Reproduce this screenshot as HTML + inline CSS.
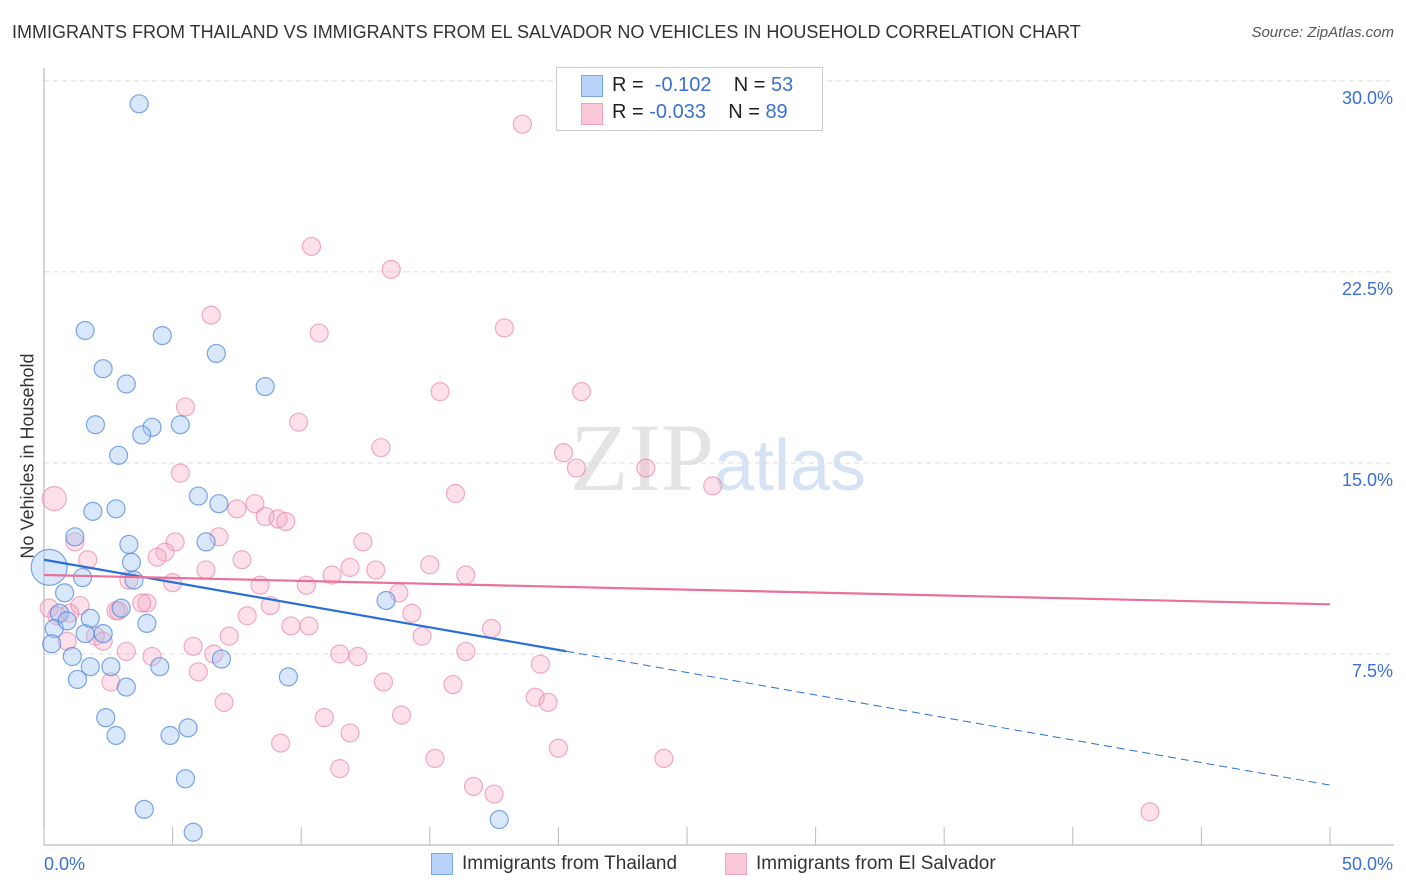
<!DOCTYPE html>
<html><head><meta charset="utf-8">
<style>
body{margin:0;background:#fff;font-family:"Liberation Sans",sans-serif;}
#wrap{position:relative;width:1406px;height:892px;overflow:hidden;}
.t{position:absolute;white-space:nowrap;}
</style></head>
<body>
<div id="wrap">
<div class="t" style="left:12px;top:22px;font-size:18px;color:#333;">IMMIGRANTS FROM THAILAND VS IMMIGRANTS FROM EL SALVADOR NO VEHICLES IN HOUSEHOLD CORRELATION CHART</div>
<div class="t" style="right:12px;top:24px;font-size:15px;color:#555;font-style:italic;">Source: ZipAtlas.com</div>
<div class="t" style="left:28px;top:456px;font-size:18px;color:#333;transform:translate(-50%,-50%) rotate(-90deg);">No Vehicles in Household</div>
<svg id="svg" width="1406" height="892" style="position:absolute;left:0;top:0"></svg>
<div style="position:absolute;left:556px;top:67px;width:265px;height:62px;border:1px solid #ccc;background:#fff;"></div>
<div style="position:absolute;left:581px;top:75px;width:20px;height:20px;background:#b7d3f7;border:1px solid #7aa6e6;"></div>
<div style="position:absolute;left:581px;top:103px;width:20px;height:20px;background:#fac8d8;border:1px solid #eea2bb;"></div>
<div class="t" style="left:612px;top:74px;font-size:20px;color:#222;">R = &nbsp;<span style="color:#3b6fd4">-0.102</span>&nbsp;&nbsp;&nbsp; N = <span style="color:#3b6fd4">53</span></div>
<div class="t" style="left:612px;top:101px;font-size:20px;color:#222;">R = <span style="color:#3b6fd4">-0.033</span>&nbsp;&nbsp;&nbsp; N = <span style="color:#3b6fd4">89</span></div>
<div style="position:absolute;left:431px;top:853px;width:20px;height:20px;background:#b7d3f7;border:1px solid #7aa6e6;"></div>
<div class="t" style="left:462px;top:853px;font-size:19px;color:#333;">Immigrants from Thailand</div>
<div style="position:absolute;left:725px;top:853px;width:20px;height:20px;background:#fac8d8;border:1px solid #eea2bb;"></div>
<div class="t" style="left:756px;top:853px;font-size:19px;color:#333;">Immigrants from El Salvador</div>
</div>
<script>
const blueX=[3.7,1.6,4.6,2.3,6.7,3.2,8.6,2.0,4.2,3.8,5.3,2.9,6.0,1.9,2.8,6.8,1.2,3.3,6.3,3.4,1.5,3.5,0.8,0.6,3.0,13.3,4.0,0.4,1.6,2.3,0.9,1.8,0.3,1.1,1.8,2.6,4.5,6.9,1.3,3.2,9.5,2.4,2.8,4.9,5.6,5.5,3.9,5.8,17.7,0.2];
const blueY=[29.1,20.2,20.0,18.7,19.3,18.1,18.0,16.5,16.4,16.1,16.5,15.3,13.7,13.1,13.2,13.4,12.1,11.8,11.9,11.1,10.5,10.4,9.9,9.1,9.3,9.6,8.7,8.5,8.3,8.3,8.8,8.9,7.9,7.4,7.0,7.0,7.0,7.3,6.5,6.2,6.6,5.0,4.3,4.3,4.6,2.6,1.4,0.5,1.0,10.9];
const blueR=[9,9,9,9,9,9,9,9,9,9,9,9,9,9,9,9,9,9,9,9,9,9,9,9,9,9,9,9,9,9,9,9,9,9,9,9,9,9,9,9,9,9,9,9,9,9,9,9,9,18];
const pinkX=[18.6,10.4,13.5,6.5,10.7,17.9,15.4,20.9,5.5,9.9,13.1,20.2,20.7,23.4,5.3,16.0,26.0,0.4,8.2,7.5,8.6,9.1,9.4,6.8,5.1,1.2,4.7,4.4,1.7,7.7,12.4,11.9,11.2,12.9,15.0,16.4,6.3,3.3,5.0,8.4,10.2,13.8,0.2,1.4,2.9,4.0,3.8,2.8,0.5,1.0,8.8,14.3,7.9,9.6,10.3,7.2,5.8,2.0,2.3,0.9,3.2,4.2,6.6,11.5,12.2,14.7,16.4,17.4,19.3,6.0,2.6,13.2,15.9,19.1,19.6,7.0,13.9,10.9,11.9,9.2,20.0,15.2,11.5,16.7,17.5,24.1,43.0];
const pinkY=[28.3,23.5,22.6,20.8,20.1,20.3,17.8,17.8,17.2,16.6,15.6,15.4,14.8,14.8,14.6,13.8,14.1,13.6,13.4,13.2,12.9,12.8,12.7,12.1,11.9,11.9,11.5,11.3,11.2,11.2,11.9,10.9,10.6,10.8,11.0,10.6,10.8,10.4,10.3,10.2,10.2,9.9,9.3,9.4,9.2,9.5,9.5,9.2,9.0,9.1,9.4,9.1,9.0,8.6,8.6,8.2,7.8,8.2,8.0,8.0,7.6,7.4,7.5,7.5,7.4,8.2,7.6,8.5,7.1,6.8,6.4,6.4,6.3,5.8,5.6,5.6,5.1,5.0,4.4,4.0,3.8,3.4,3.0,2.3,2.0,3.4,1.3];
const pinkR=pinkX.map((v,i)=>i===17?12:9);
const yTicks=[7.5,15,22.5,30];
const yTickLabels=["7.5%","15.0%","22.5%","30.0%"];
const xTicks=[0,5,10,15,20,25,30,35,40,45,50];
const blueTrend=[11.2,-0.177];  // intercept, slope per %
const blueSolidEnd=20.3;
const pinkTrend=[10.6,-0.023];

const X=v=>44+v*25.72, Y=v=>845-v*25.47;
const svg=document.getElementById('svg');
const NS='http://www.w3.org/2000/svg';
function mk(tag,attrs,name){const e=document.createElementNS(NS,tag);for(const k in attrs)e.setAttribute(k,attrs[k]);


svg.appendChild(e);return e;}
let w=mk('text',{x:718,y:490,'font-size':96,'text-anchor':'middle','font-family':'Liberation Serif, serif',fill:'#e4e4e4'},'watermark');
w.innerHTML='ZIP<tspan fill="#d6e3f4" font-family="Liberation Sans, sans-serif" font-size="72">atlas</tspan>';
yTicks.forEach((t,i)=>{
 mk('line',{x1:44,x2:1394,y1:Y(t),y2:Y(t),stroke:'#ddd','stroke-dasharray':'5,4'},'y-gridline');
 const l=mk('text',{x:1393,y:Y(t)+23,'text-anchor':'end','font-size':18,fill:'#3b6fd4','font-family':'Liberation Sans, sans-serif'},'y-tick-label');
 l.textContent=yTickLabels[i];
});
mk('line',{x1:44,x2:44,y1:68,y2:845,stroke:'#aaa'},'y-axis-line');
mk('line',{x1:44,x2:1394,y1:845,y2:845,stroke:'#aaa'},'x-axis-line');
xTicks.forEach(t=>mk('line',{x1:X(t),x2:X(t),y1:827,y2:845,stroke:'#bbb'},'x-tick'));
let xl=mk('text',{x:44,y:870,'font-size':18,fill:'#3b6fd4','font-family':'Liberation Sans, sans-serif'},'x-tick-label-min');xl.textContent='0.0%';
xl=mk('text',{x:1393,y:870,'text-anchor':'end','font-size':18,fill:'#3b6fd4','font-family':'Liberation Sans, sans-serif'},'x-tick-label-max');xl.textContent='50.0%';
pinkX.forEach((v,i)=>mk('circle',{cx:X(v),cy:Y(pinkY[i]),r:pinkR[i],fill:'rgba(246,168,194,0.35)',stroke:'rgba(232,130,165,0.65)','stroke-width':1.2},'pink-point'));
blueX.forEach((v,i)=>mk('circle',{cx:X(v),cy:Y(blueY[i]),r:blueR[i],fill:'rgba(160,196,242,0.4)',stroke:'rgba(70,130,220,0.7)','stroke-width':1.2},'blue-point'));
const bY=x=>blueTrend[0]+blueTrend[1]*x, pY=x=>pinkTrend[0]+pinkTrend[1]*x;
mk('line',{x1:X(0),y1:Y(bY(0)),x2:X(blueSolidEnd),y2:Y(bY(blueSolidEnd)),stroke:'#2a6fd6','stroke-width':2.2},'thailand-trend-line');
mk('line',{x1:X(blueSolidEnd),y1:Y(bY(blueSolidEnd)),x2:X(50),y2:Y(bY(50)),stroke:'#2a6fd6','stroke-width':1,'stroke-dasharray':'8,5'},'thailand-trend-extension');
mk('line',{x1:X(0),y1:Y(pY(0)),x2:X(50),y2:Y(pY(50)),stroke:'#e8709a','stroke-width':2.2},'elsalvador-trend-line');
</script>
</body></html>
